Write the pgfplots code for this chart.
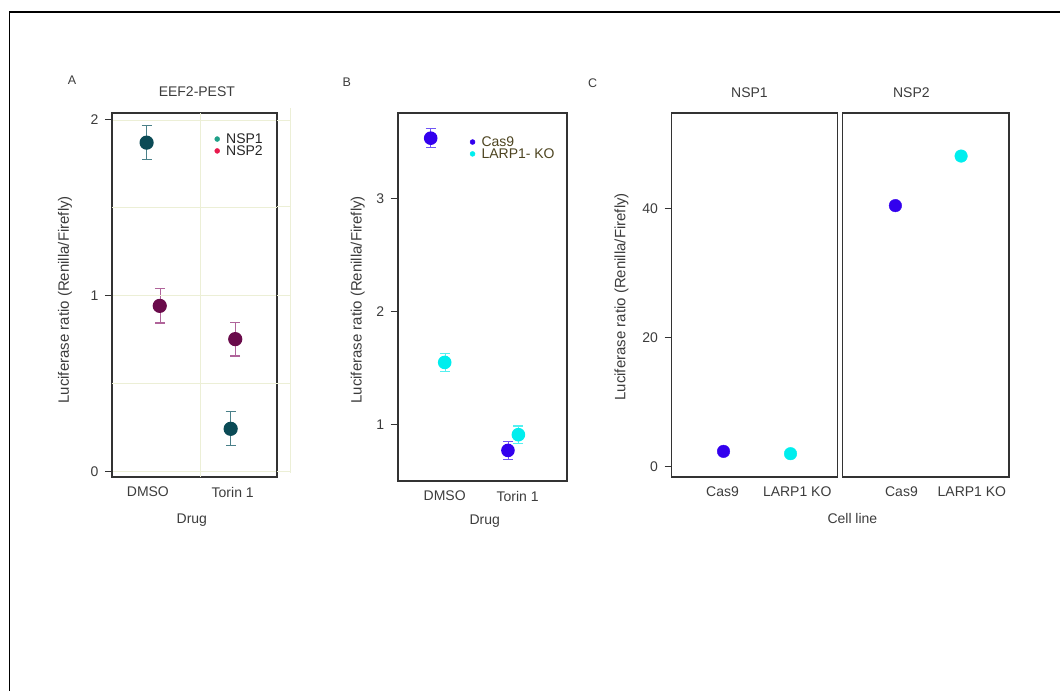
\documentclass[border=0pt]{standalone}
\usepackage{pgfplots}
\pgfplotsset{compat=1.18}
\usepackage{fontspec}
\setmainfont{Liberation Sans}
\definecolor{nspA}{HTML}{0B4B56}
\definecolor{nspAerr}{HTML}{4A8089}
\definecolor{nspB}{HTML}{6A0B4B}
\definecolor{nspBerr}{HTML}{B0649A}
\definecolor{legA}{HTML}{1FA088}
\definecolor{legB}{HTML}{E8194D}
\definecolor{cas}{HTML}{3300EE}
\definecolor{casErr}{HTML}{6F55F5}
\definecolor{larp}{HTML}{00EEEE}
\definecolor{larpErr}{HTML}{55F0F0}
\definecolor{gridc}{HTML}{ECEFD6}
\definecolor{frame}{HTML}{333333}
\definecolor{txt}{HTML}{3C3C3C}
\definecolor{olive}{HTML}{4D4420}
\newcommand\fs{\fontsize{14bp}{16bp}\selectfont}
\newcommand\fl{\fontsize{14bp}{16bp}\selectfont}
\newcommand\fy{\fontsize{15bp}{17bp}\selectfont}
\pgfplotsset{
  panel/.style={
    scale only axis, anchor=south west,
    axis line style={draw=frame, line width=1.8bp},
    tick align=outside,
    ytick pos=left,
    major tick length=7bp,
    ytick style={draw=frame, line width=1.1bp},
    xtick style={draw=none},
    tick label style={font=\fs, text=txt},
    yticklabel style={xshift=-3bp},
    /pgf/number format/assume math mode=true,
    clip=false,
    legend cell align=left,
    legend style={draw=none, fill=none, inner sep=0pt, row sep=0bp,
      font=\fontsize{14bp}{14bp}\selectfont, nodes={inner sep=0.3bp, text=black!85},
      /tikz/every odd column/.append style={column sep=6bp}},
  },
  dots/.style 2 args={only marks, mark=*, mark size=#1,
    mark options={fill=#2, draw=#2},
    error bars/y dir=both, error bars/y explicit,
    error bars/error mark options={line width=1.2bp, mark size=5bp, rotate=90}},
}
\begin{document}
\begin{tikzpicture}
\path (0,0) rectangle (1061bp,691bp);
\draw[black, line width=1.5bp] (9.5bp,0bp) -- (9.5bp,679bp) -- (1061bp,679bp);

% ---------------- Panel A ----------------
\begin{axis}[panel, at={(112bp,214bp)}, width=165bp, height=364bp,
  xmin=0.576, xmax=2.52, ymin=-0.028, ymax=2.04,
  xtick={1,2}, xticklabels={DMSO,Torin 1},
  ytick={0,1,2}, ymajorgrids,
  extra y ticks={0.5,1.5}, extra y tick labels={},
  extra y tick style={major tick length=0pt, grid=major},
  extra x ticks={1.623}, extra x tick labels={},
  extra x tick style={major tick length=0pt, grid=major},
  grid style={draw=gridc, line width=0.8bp},
  legend style={at={(0.621,0.945)}, anchor=north west},
  axis on top]
\addlegendimage{legend image code/.code={\fill[legA] (2.5bp,0bp) circle (2.5bp);}}
\addlegendentry{NSP1}
\addlegendimage{legend image code/.code={\fill[legB] (2.5bp,0bp) circle (2.5bp);}}
\addlegendentry{NSP2}
\addplot[dots={6.5bp}{nspA}, nspAerr, line width=1.2bp, forget plot]
  table[x=x, y=y, y error=e] {
x y e
0.985 1.871 0.096
1.976 0.244 0.097
};
\addplot[dots={6.5bp}{nspB}, nspBerr, line width=1.2bp, forget plot]
  table[x=x, y=y, y error=e] {
x y e
1.14 0.943 0.097
2.03 0.754 0.096
};
\end{axis}
\draw[gridc, line width=0.8bp] (277bp,571bp) -- (291bp,571bp)
  (277bp,484bp) -- (291bp,484bp) (277bp,395bp) -- (291bp,395bp)
  (277bp,307bp) -- (291bp,307bp) (277bp,219bp) -- (291bp,219bp)
  (291bp,583bp) -- (291bp,218bp);
\node[font=\fontsize{12.5bp}{14bp}\selectfont, text=txt] at (72bp,611bp) {A};
\node[font=\fl, text=txt] at (197bp,599bp) {EEF2-PEST};
\node[font=\fy, text=txt, rotate=90] at (65bp,391bp) {Luciferase ratio (Renilla/Firefly)};
\node[font=\fl, text=txt] at (192bp,170bp) {Drug};

% ---------------- Panel B ----------------
\begin{axis}[panel, at={(398bp,210bp)}, width=169bp, height=368bp,
  xmin=0.356, xmax=2.671, ymin=0.506, ymax=3.753,
  xtick={1,2}, xticklabels={DMSO,Torin 1},
  ytick={1,2,3},
  legend style={at={(0.426,0.9375)}, anchor=north west,
    nodes={inner sep=0.3bp, text=olive}},
  axis on top]
\addlegendimage{legend image code/.code={\fill[cas] (2.5bp,0bp) circle (2.5bp);}}
\addlegendentry{Cas9}
\addlegendimage{legend image code/.code={\fill[larp] (2.5bp,0bp) circle (2.5bp);}}
\addlegendentry{LARP1- KO}
\addplot[dots={6.2bp}{cas}, casErr, line width=1.2bp, forget plot]
  table[x=x, y=y, y error=e] {
x y e
0.808 3.53 0.082
1.867 0.773 0.078
};
\addplot[dots={6.2bp}{larp}, larpErr, line width=1.2bp, forget plot]
  table[x=x, y=y, y error=e] {
x y e
1.0 1.55 0.079
2.01 0.912 0.076
};
\end{axis}
\node[font=\fontsize{12.5bp}{14bp}\selectfont, text=txt] at (347bp,609bp) {B};
\node[font=\fy, text=txt, rotate=90] at (358bp,391bp) {Luciferase ratio (Renilla/Firefly)};
\node[font=\fl, text=txt] at (485bp,169bp) {Drug};

% ---------------- Panel C ----------------
\begin{axis}[panel, at={(672bp,214bp)}, width=166bp, height=364bp,
  xmin=0.224, xmax=2.70, ymin=-1.6, ymax=54.9,
  xtick={0.985,2.10}, xticklabels={Cas9,LARP1 KO},
  ytick={0,20,40}, axis on top]
\addplot[only marks, mark=*, mark size=6.3bp, color=cas] table {
1.0 2.33
};
\addplot[only marks, mark=*, mark size=6.3bp, color=larp] table {
2.0 1.97
};
\end{axis}
\begin{axis}[panel, at={(843bp,214bp)}, width=167bp, height=364bp,
  xmin=0.224, xmax=2.70, ymin=-1.6, ymax=54.9,
  xtick={1.10,2.145}, xticklabels={Cas9,LARP1 KO},
  ytick=\empty, axis on top]
\addplot[only marks, mark=*, mark size=6.3bp, color=cas] table {
1.01 40.5
};
\addplot[only marks, mark=*, mark size=6.3bp, color=larp] table {
1.985 48.2
};
\end{axis}
\node[font=\fontsize{12.5bp}{14bp}\selectfont, text=txt] at (593bp,608bp) {C};
\node[font=\fl, text=txt] at (750bp,598bp) {NSP1};
\node[font=\fl, text=txt] at (912bp,598bp) {NSP2};
\node[font=\fy, text=txt, rotate=90] at (622bp,394bp) {Luciferase ratio (Renilla/Firefly)};
\node[font=\fl, text=txt] at (853bp,172bp) {Cell line};
\end{tikzpicture}
\end{document}
